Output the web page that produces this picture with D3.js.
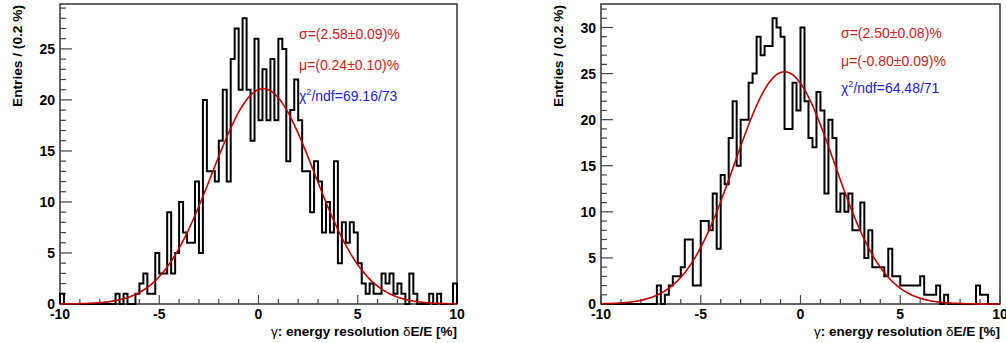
<!DOCTYPE html>
<html>
<head>
<meta charset="utf-8">
<script src="https://cdn.jsdelivr.net/npm/d3@7"></script>
<style>
  body { margin: 0; background: #fff; }
  svg text { font-family: "Liberation Sans", Arial, sans-serif; }
</style>
</head>
<body>
<div id="chart"></div>
<script>
// 100 bins of 0.2 % from -10 to 10
const xRange = [-10, 10];
const binWidth = 0.2;

const leftCounts = [
  1,0,0,0,0,0,0,0,0,0,
  0,0,0,0,1,0,1,0,0,1,
  2,3,1,1,5,3,3,9,3,5,
  10,7,6,6,12,5,20,13,13,12,
  16,21,12,24,27,21,28,21,16,26,
  18,23,18,24,18,26,25,14,19,22,
  18,13,13,9,14,12,7,10,7,14,
  4,8,6,8,7,4,2,1,2,1,
  1,3,2,3,1,2,1,0,3,1,
  0,0,0,1,0,1,0,0,0,2
];
const rightCounts = [
  0,0,0,0,0,0,0,0,0,0,
  0,0,0,0,2,0,1,2,3,3,
  4,7,7,2,2,9,9,8,12,6,
  14,13,18,22,15,20,20,24,25,29,
  27,28,28,31,30,29,19,19,24,21,
  30,22,18,17,23,21,12,20,18,10,
  12,10,12,8,8,11,5,8,4,4,
  4,3,6,3,3,2,2,2,2,2,
  3,1,1,1,2,0,1,0,0,0,
  0,0,0,0,2,1,1,0,0,0
];

// gaussian fit parameters: [amplitude, mean, sigma]
const leftFit = [21.1, 0.24, 2.58];
const rightFit = [25.2, -0.80, 2.50];

const leftLabels = ["σ=(2.58±0.09)%", "μ=(0.24±0.10)%", "69.16/73"];
const rightLabels = ["σ=(2.50±0.08)%", "μ=(-0.80±0.09)%", "64.48/71"];

const xTicks = [-10, -5, 0, 5, 10];
const yTitle = "Entries / (0.2 %)";

const W = 1006, H = 343;
const svg = d3.select("#chart").append("svg")
  .attr("width", W).attr("height", H);

function drawPanel(opts) {
  const { counts, fit, labels, x0, x1, yMax, labelX, labelY } = opts;
  const top = 4, bottom = 304;
  const x = d3.scaleLinear().domain(xRange).range([x0, x1]);
  const y = d3.scaleLinear().domain([0, yMax]).range([bottom, top]);
  const g = svg.append("g");

  // frame
  g.append("rect")
    .attr("x", x0).attr("y", top)
    .attr("width", x1 - x0).attr("height", bottom - top)
    .attr("fill", "none").attr("stroke", "#333").attr("stroke-width", 1.5);

  // y ticks (inward)
  const yMinor = d3.range(0, Math.floor(yMax) + 1);
  g.selectAll(".ymin").data(yMinor).enter().append("line")
    .attr("x1", x0).attr("x2", d => x0 + (d % 5 === 0 ? 12 : 6))
    .attr("y1", d => y(d)).attr("y2", d => y(d))
    .attr("stroke", "#444").attr("stroke-width", 1.2);
  g.selectAll(".ylab").data(yMinor.filter(d => d % 5 === 0)).enter().append("text")
    .attr("x", x0 - 5).attr("y", d => y(d) + 5)
    .attr("text-anchor", "end")
    .attr("font-size", 14).attr("font-weight", "bold")
    .text(d => d);

  // x ticks
  const xMinor = d3.range(-10, 11, 1);
  g.selectAll(".xmin").data(xMinor).enter().append("line")
    .attr("x1", d => x(d)).attr("x2", d => x(d))
    .attr("y1", bottom).attr("y2", d => bottom - (d % 5 === 0 ? 9 : 5))
    .attr("stroke", "#444").attr("stroke-width", 1.2);
  g.selectAll(".xlab").data(xTicks).enter().append("text")
    .attr("x", d => x(d)).attr("y", bottom + 15)
    .attr("text-anchor", "middle")
    .attr("font-size", 14).attr("font-weight", "bold")
    .text(d => d);

  // axis titles
  g.append("text")
    .attr("transform", `translate(${x0 - 38},${top + 1}) rotate(-90)`)
    .attr("text-anchor", "end")
    .attr("font-size", 13.7).attr("font-weight", "bold")
    .text(yTitle);
  const xt = g.append("text")
    .attr("x", x1).attr("y", bottom + 32)
    .attr("text-anchor", "end")
    .attr("font-size", 13.5).attr("font-weight", "bold");
  xt.append("tspan").attr("font-weight", "normal").text("γ");
  xt.append("tspan").text(": energy resolution ");
  xt.append("tspan").attr("font-weight", "normal").text("δ");
  xt.append("tspan").text("E/E [%]");

  // histogram outline
  const pts = [[x(xRange[0]), y(0)]];
  counts.forEach((c, i) => {
    const lo = xRange[0] + i * binWidth;
    pts.push([x(lo), y(c)], [x(lo + binWidth), y(c)]);
  });
  pts.push([x(xRange[1]), y(0)]);
  g.append("path")
    .attr("d", d3.line()(pts))
    .attr("fill", "none").attr("stroke", "#000").attr("stroke-width", 2)
    .attr("stroke-linejoin", "miter");

  // fit curve
  const [A, mu, sig] = fit;
  const xs = d3.range(xRange[0], xRange[1] + 0.001, 0.05);
  g.append("path")
    .attr("d", d3.line().x(v => x(v)).y(v => y(A * Math.exp(-0.5 * ((v - mu) / sig) ** 2)))(xs))
    .attr("fill", "none").attr("stroke", "#c00000").attr("stroke-width", 1.6);

  // fit labels
  g.append("text").attr("x", labelX).attr("y", labelY[0])
    .attr("font-size", 14).attr("fill", "#cc2222").text(labels[0]);
  g.append("text").attr("x", labelX).attr("y", labelY[1])
    .attr("font-size", 14).attr("fill", "#cc2222").text(labels[1]);
  const chi = g.append("text").attr("x", labelX).attr("y", labelY[2])
    .attr("font-size", 14).attr("fill", "#2222cc");
  chi.append("tspan").text("χ");
  chi.append("tspan").attr("font-size", 9).attr("dy", -6).text("2");
  chi.append("tspan").attr("dy", 6).text("/ndf=" + labels[2]);
}

drawPanel({
  counts: leftCounts, fit: leftFit, labels: leftLabels,
  x0: 60, x1: 457, yMax: 29.4, labelX: 299, labelY: [39, 70, 101]
});
drawPanel({
  counts: rightCounts, fit: rightFit, labels: rightLabels,
  x0: 601, x1: 1000, yMax: 32.55, labelX: 841, labelY: [38, 66, 93]
});
</script>
</body>
</html>
